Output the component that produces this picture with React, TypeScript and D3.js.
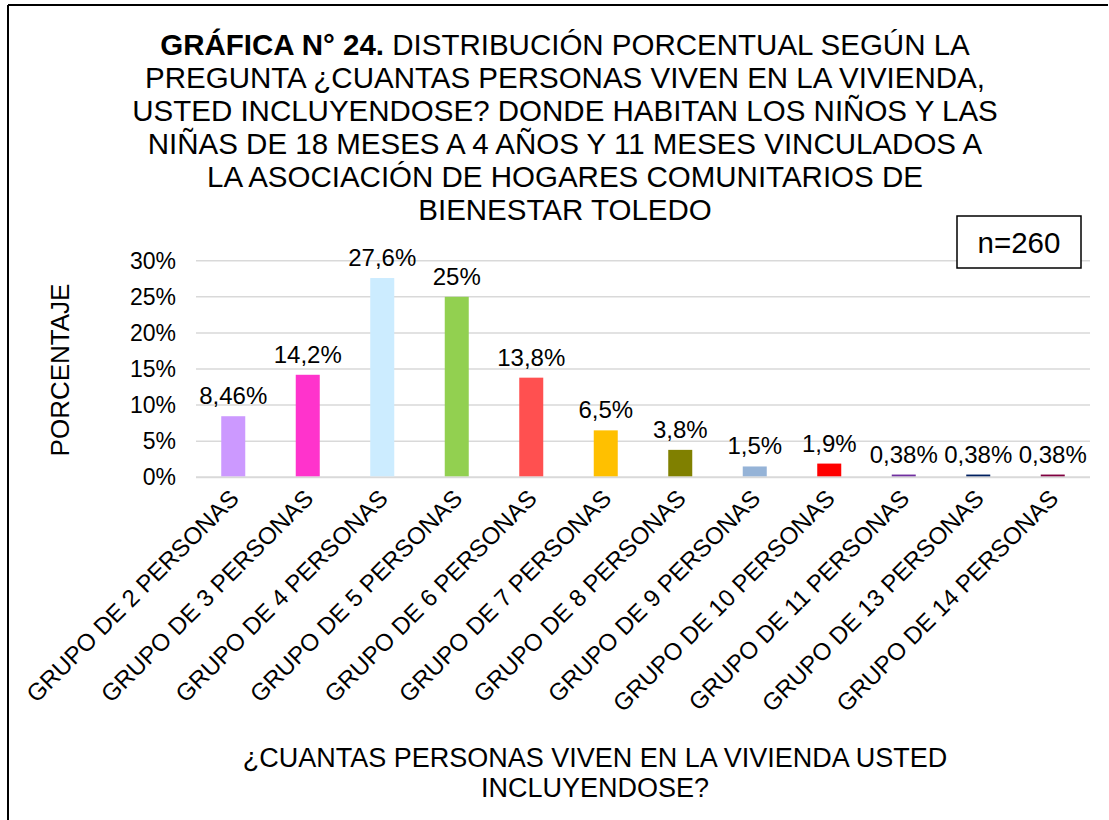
import React from "react";
import * as d3 from "d3";

const categories = [
  "GRUPO DE 2 PERSONAS",
  "GRUPO DE 3 PERSONAS",
  "GRUPO DE 4 PERSONAS",
  "GRUPO DE 5 PERSONAS",
  "GRUPO DE 6 PERSONAS",
  "GRUPO DE 7 PERSONAS",
  "GRUPO DE 8 PERSONAS",
  "GRUPO DE 9 PERSONAS",
  "GRUPO DE 10 PERSONAS",
  "GRUPO DE 11 PERSONAS",
  "GRUPO DE 13 PERSONAS",
  "GRUPO DE 14 PERSONAS",
];
const values = [8.46, 14.2, 27.6, 25, 13.8, 6.5, 3.8, 1.5, 1.9, 0.38, 0.38, 0.38];
const valueLabels = ["8,46%", "14,2%", "27,6%", "25%", "13,8%", "6,5%", "3,8%", "1,5%", "1,9%", "0,38%", "0,38%", "0,38%"];
const colors = ["#CC99FF", "#FF33CC", "#CCECFF", "#92D050", "#FF5050", "#FFC000", "#808000", "#95B3D7", "#FF0000", "#7030A0", "#002060", "#800040"];
const yTicks = [0, 5, 10, 15, 20, 25, 30];
const titleLines = [
  "DISTRIBUCIÓN PORCENTUAL SEGÚN LA",
  "PREGUNTA ¿CUANTAS PERSONAS VIVEN EN LA VIVIENDA,",
  "USTED INCLUYENDOSE? DONDE HABITAN LOS NIÑOS Y LAS",
  "NIÑAS DE 18 MESES A 4 AÑOS Y 11 MESES VINCULADOS A",
  "LA ASOCIACIÓN DE HOGARES COMUNITARIOS DE",
  "BIENESTAR TOLEDO",
];
const titleBold = "GRÁFICA N° 24.";
const xTitle = ["¿CUANTAS PERSONAS VIVEN EN LA VIVIENDA USTED", "INCLUYENDOSE?"];
const yTitle = "PORCENTAJE";
const nLabel = "n=260";

const W = 1109, H = 820;
const plot = { left: 196, right: 1090, top: 260.7, bottom: 477.3 };
const font = "'Liberation Sans', Arial, sans-serif";

export default function App() {
  const x = d3.scaleBand<string>().domain(categories).range([plot.left, plot.right]).paddingInner(0.678).paddingOuter(0.339);
  const y = d3.scaleLinear().domain([0, 30]).range([plot.bottom, plot.top]);
  const bw = 24;
  return (
    <svg width={W} height={H} style={{ position: "absolute", left: 0, top: 0, background: "#fff" }} fontFamily={font}>
      <rect x={0} y={0} width={W} height={H} fill="#fff" />
      <line x1={8} y1={5} x2={1108} y2={5} stroke="#000" strokeWidth={2} />
      <line x1={8} y1={5} x2={8} y2={H} stroke="#000" strokeWidth={2} />
      <g fontSize={29.5} fill="#000" textAnchor="middle">
        {titleLines.map((t, i) => (
          <text key={i} x={565} y={55 + i * 33}>
            {i === 0 ? (<><tspan fontWeight="bold">{titleBold}</tspan> {t}</>) : t}
          </text>
        ))}
      </g>
      {yTicks.map((t) => (
        <g key={t}>
          <line x1={plot.left} x2={plot.right} y1={y(t)} y2={y(t)} stroke="#d9d9d9" strokeWidth={t === 0 ? 2 : 1.5} />
          <text x={176} y={y(t) + 8} fontSize={23} textAnchor="end" fill="#000">{t}%</text>
        </g>
      ))}
      {categories.map((c, i) => {
        const cx = (x(c) as number) + x.bandwidth() / 2;
        return (
          <g key={c}>
            <rect x={cx - bw / 2} y={y(values[i])} width={bw} height={plot.bottom - 1 - y(values[i])} fill={colors[i]} />
            <text x={cx} y={y(values[i]) - 12} fontSize={24} textAnchor="middle" fill="#000">{valueLabels[i]}</text>
            <text transform={`translate(${cx + 7},${500}) rotate(-45)`} fontSize={24} textAnchor="end" fill="#000">{c}</text>
          </g>
        );
      })}
      <text transform={`translate(69,370) rotate(-90)`} fontSize={26} textAnchor="middle" fill="#000">{yTitle}</text>
      {xTitle.map((t, i) => (
        <text key={i} x={595} y={767 + i * 30} fontSize={27} textAnchor="middle" fill="#000">{t}</text>
      ))}
      <rect x={957} y={216} width={124} height={52} fill="#fff" stroke="#000" strokeWidth={1.5} />
      <text x={1019} y={253} fontSize={29.5} textAnchor="middle" fill="#000">{nLabel}</text>
    </svg>
  );
}
